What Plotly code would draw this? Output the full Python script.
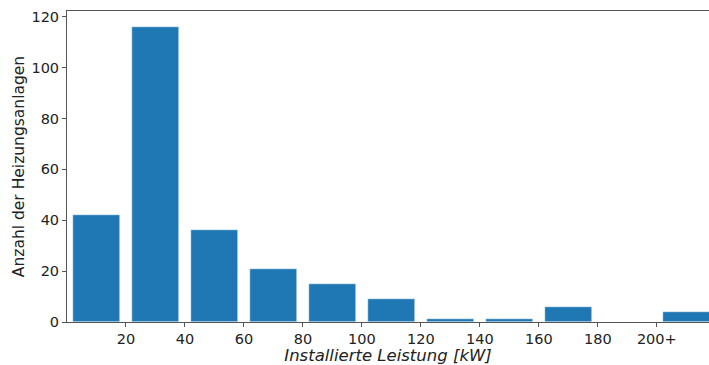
import plotly.graph_objects as go

bin_centers = [10, 30, 50, 70, 90, 110, 130, 150, 170, 190, 210]
counts = [42, 116, 36, 21, 15, 9, 1, 1, 6, 0, 4]
x_tick_vals = [20, 40, 60, 80, 100, 120, 140, 160, 180, 200]
x_tick_text = ["20", "40", "60", "80", "100", "120", "140", "160", "180", "200+"]
y_tick_vals = [0, 20, 40, 60, 80, 100, 120]

fig = go.Figure()
fig.add_trace(go.Bar(
    x=bin_centers, y=counts, width=16,
    marker=dict(color="#1f77b4", line=dict(color="#ffffff", width=0.5)),
))

font = "DejaVu Sans, sans-serif"
fig.update_layout(
    width=709, height=365,
    margin=dict(l=67, r=0, t=11, b=43),
    plot_bgcolor="white", paper_bgcolor="white",
    showlegend=False,
    font=dict(family=font, size=14.5, color="#222222"),
    bargap=0,
)
fig.update_xaxes(
    range=[0, 217.7],
    tickvals=x_tick_vals, ticktext=x_tick_text,
    ticks="outside", ticklen=4, tickwidth=1, tickcolor="#555555",
    showline=True, linecolor="#555555", linewidth=1, mirror=True,
    showgrid=False, zeroline=False,
    title=dict(text="<i>Installierte Leistung [kW]</i>", font=dict(size=16.5), standoff=6),
)
fig.update_yaxes(
    range=[0, 122.3],
    tickvals=y_tick_vals,
    ticks="outside", ticklen=4, tickwidth=1, tickcolor="#555555",
    showline=True, linecolor="#555555", linewidth=1,
    showgrid=False, zeroline=False,
    title=dict(text="Anzahl der Heizungsanlagen", font=dict(size=15.5), standoff=2),
)
fig.write_html("out.html")
